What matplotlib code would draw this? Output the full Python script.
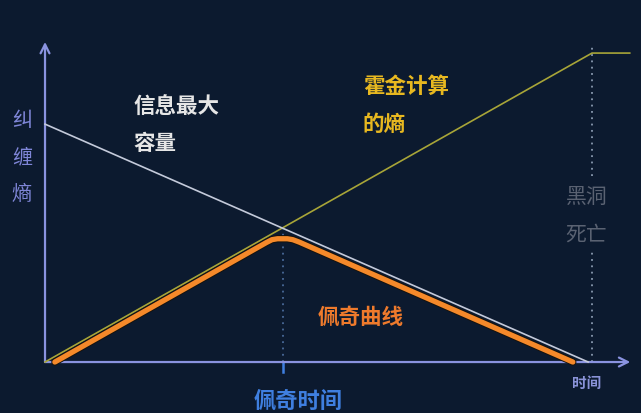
import matplotlib
matplotlib.use("Agg")
import matplotlib.pyplot as plt
import matplotlib.patheffects as pe

plt.rcParams['font.family'] = ['Noto Sans CJK SC', 'DejaVu Sans']

# ---- data ----
hawking_t = [0.0, 10.0, 10.69]
hawking_s = [0.0, 10.0, 10.0]
capacity_t = [0.0, 9.93]
capacity_s = [7.70, 0.0]
page_t = [0.18, 4.05, 4.15, 4.25, 4.43, 4.53, 4.65, 9.65]
page_s = [0.0, 3.87, 3.96, 3.99, 3.99, 3.96, 3.88, 0.0]
page_time = 4.35
page_time_s = 4.34
death_time = 10.0

BG = '#0C1A2F'
AXC = '#8A93E0'

fig = plt.figure(figsize=(6.41, 4.14), dpi=100, facecolor=BG)
ax = fig.add_axes([0, 0, 1, 1])
ax.set_facecolor(BG)
ax.set_xlim(-0.823, 10.896)
ax.set_ylim(-1.65, 11.75)
ax.axis('off')

# axes arrows
ax.annotate('', xy=(10.70, 0), xytext=(0, 0),
            arrowprops=dict(arrowstyle='->', color=AXC, lw=1.6,
                            mutation_scale=16, shrinkA=0, shrinkB=0))
ax.annotate('', xy=(0, 10.36), xytext=(0, 0),
            arrowprops=dict(arrowstyle='->', color=AXC, lw=1.6,
                            mutation_scale=16, shrinkA=0, shrinkB=0))

# dotted verticals
ax.plot([page_time, page_time], [0, page_time_s], ls=(0, (1, 2.5)),
        color='#4A6A9A', lw=1.3, zorder=1)
ax.plot([death_time, death_time], [0, 3.56], ls=(0, (1, 2.5)),
        color='#8A9AB0', lw=1.3, zorder=1)
ax.plot([death_time, death_time], [6.02, 10.29], ls=(0, (1, 2.5)),
        color='#8A9AB0', lw=1.3, zorder=1)

# page time tick
ax.plot([page_time, page_time], [0, -0.33], color='#3F7FE0', lw=1.8)

# lines
ax.plot(hawking_t, hawking_s, color='#A8A538', lw=1.2, zorder=3)
ax.plot(capacity_t, capacity_s, color='#C4CADA', lw=1.2, zorder=3)
ax.plot(page_t, page_s, color='#F5892A', lw=3.8, zorder=4,
        solid_capstyle='round', solid_joinstyle='round',
        path_effects=[pe.Stroke(linewidth=5.2, foreground='#15120E'), pe.Normal()])

# texts
for ch, s in zip('纠缠熵', [7.86, 6.63, 5.44]):
    ax.text(-0.42, s, ch, color='#7F86D8', fontsize=14.5, ha='center', va='center')

ax.text(1.61, 8.28, '信息最大', color='#E6E6E6', fontsize=15.5, fontweight='bold',
        ha='left', va='center')
ax.text(1.61, 7.12, '容量', color='#E6E6E6', fontsize=15.5, fontweight='bold',
        ha='left', va='center')
ax.text(5.81, 8.96, '霍金计算', color='#E8B820', fontsize=15.5, fontweight='bold',
        ha='left', va='center')
ax.text(5.81, 7.73, '的熵', color='#E8B820', fontsize=15.5, fontweight='bold',
        ha='left', va='center')
ax.text(9.52, 5.37, '黑洞', color='#5A6272', fontsize=15, ha='left', va='center')
ax.text(9.52, 4.17, '死亡', color='#5A6272', fontsize=15, ha='left', va='center')
ax.text(4.99, 1.49, '佩奇曲线', color='#EE7A2C', fontsize=15.5, fontweight='bold',
        ha='left', va='center')
ax.text(4.63, -1.26, '佩奇时间', color='#3F7FE0', fontsize=16, fontweight='bold',
        ha='center', va='center')
ax.text(9.91, -0.65, '时间', color='#8A93D8', fontsize=10.5, fontweight='bold',
        ha='center', va='center')

fig.savefig('out.png', dpi=100, facecolor=BG)
